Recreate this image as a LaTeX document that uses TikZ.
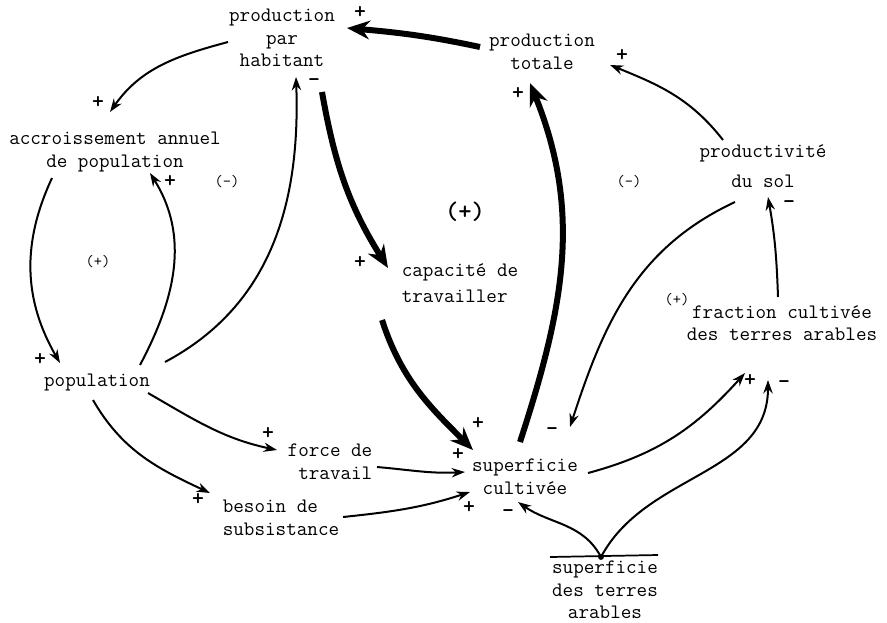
\documentclass[tikz,border=0pt]{standalone}
\usepackage{fontspec}
\usetikzlibrary{arrows.meta,calc}
\begin{document}
\begin{tikzpicture}[x=0.75pt,y=-0.75pt,
  lbl/.style={font=\ttfamily\fontsize{15.4}{17}\selectfont, inner sep=0pt},
  sgn/.style={font=\ttfamily\bfseries\fontsize{17}{17}\selectfont, inner sep=0pt, text height=1.2ex, text depth=0pt},
  loopl/.style={font=\ttfamily\fontsize{12}{12}\selectfont, inner sep=0pt},
  thinarr/.style={line width=1.5pt, -{Stealth[length=10pt,width=7pt]}},
  thickarr/.style={line width=4.5pt, -{Stealth[length=17pt,width=14pt]}}]
\useasboundingbox (0,0) rectangle (887,622);
% nodes
\node[lbl,align=center] (pph) at (282,38) {production\\par\\habitant};
\node[lbl,align=center] (pt) at (542,52) {production\\totale};
\node[lbl,align=center] (acc) at (115,152) {accroissement annuel\\de population};
\node[lbl] (pop) at (97,382) {population};
\node[lbl,align=left] (cap) at (460,283) {capacité de\\[3pt]travailler};
\node[lbl,align=center] (prod) at (763,166) {productivité\\[5pt]du sol};
\node[lbl,align=center] (frac) at (782,323) {fraction cultivée\\des terres arables};
\node[lbl,align=right] (ft) at (330,462) {force de\\travail};
\node[lbl,align=left] (bs) at (281,518) {besoin de\\subsistance};
\node[lbl,align=center] (sc) at (525,477) {superficie\\cultivée};
\node[lbl,align=center] (sta) at (605,590) {superficie\\des terres\\arables};
\coordinate (fork) at (601,557);
% bar and dot
\draw[line width=1.3pt] ($(sta)+(-55,-33)$) -- ($(sta)+(53,-35)$);
\fill (fork) circle (2.2pt);
% loop labels
\node[loopl] (l1) at (227,182) {(-)};
\node[loopl] (l2) at (98,262) {(+)};
\node[font=\ttfamily\bfseries\fontsize{19}{19}\selectfont, inner sep=0pt] (l3) at (465,212) {(+)};
\node[loopl] (l4) at (629,182) {(-)};
\node[loopl] (l5) at (677,300) {(+)};
% connectors
\draw[thinarr] ($(pph)+(-54,4)$) to[out=195,in=55] ($(acc)+(-5,-40)$);
\draw[thickarr] ($(pt)+(-62,-5)$) to[out=168,in=-5] ($(pph)+(65,-10)$);
\draw[thickarr] ($(pph)+(40,54)$) to[out=-80,in=122] ($(cap)+(-72,-15)$);
\draw[thinarr] ($(pop)+(68,-20)$) to[out=28,in=-88] ($(pph)+(14,39)$);
\draw[thinarr] ($(acc)+(-63,26)$) to[out=-115,in=120] ($(pop)+(-37,-19)$);
\draw[thinarr] ($(pop)+(43,-17)$) to[out=62,in=-58] ($(acc)+(35,21)$);
\draw[thickarr] ($(cap)+(-78,37)$) to[out=-72,in=135] ($(sc)+(-52,-27)$);
\draw[thickarr] ($(sc)+(-5,-35)$) to[out=72,in=-68] ($(pt)+(-12,31)$);
\draw[thinarr] ($(prod)+(-40,-26)$) to[out=128,in=-22] ($(pt)+(68,13)$);
\draw[thinarr] ($(prod)+(-28,36)$) to[out=205,in=72] ($(sc)+(45,-50)$);
\draw[thinarr] ($(frac)+(-4,-26)$) to[out=92,in=-80] ($(prod)+(5,31)$);
\draw[thinarr] ($(pop)+(51,11)$) to[out=-30,in=168] ($(ft)+(-53,-12)$);
\draw[thinarr] ($(pop)+(-4,18)$) to[out=-60,in=155] ($(bs)+(-71,-25)$);
\draw[thinarr] ($(ft)+(47,5)$) to[out=-5,in=183] ($(sc)+(-60,-5)$);
\draw[thinarr] ($(bs)+(62,-1)$) to[out=6,in=198] ($(sc)+(-55,15)$);
\draw[thinarr] ($(sc)+(63,-4)$) to[out=15,in=228] ($(frac)+(-37,50)$);
\draw[thinarr] (fork) to[out=118,in=-35] ($(sc)+(-7,25)$);
\draw[thinarr] (fork) to[out=62,in=-90] ($(frac)+(-14,57)$);
% signs
\node[sgn] (s1) at (98,105) {+};
\node[sgn] (s2) at (360,15) {+};
\node[sgn] (s3) at (314,83) {-};
\node[sgn] (s4) at (360,265) {+};
\node[sgn] (s5) at (40,362) {+};
\node[sgn] (s6) at (170,184) {+};
\node[sgn] (s7) at (478,426) {+};
\node[sgn] (s8) at (518,96) {+};
\node[sgn] (s9) at (622,58) {+};
\node[sgn] (s10) at (552,432) {-};
\node[sgn] (s11) at (789,205) {-};
\node[sgn] (s12) at (268,436) {+};
\node[sgn] (s13) at (198,502) {+};
\node[sgn] (s14) at (458,457) {+};
\node[sgn] (s15) at (469,510) {+};
\node[sgn] (s16) at (750,383) {+};
\node[sgn] (s17) at (784,385) {-};
\node[sgn] (s18) at (508,514) {-};
\end{tikzpicture}
\end{document}
